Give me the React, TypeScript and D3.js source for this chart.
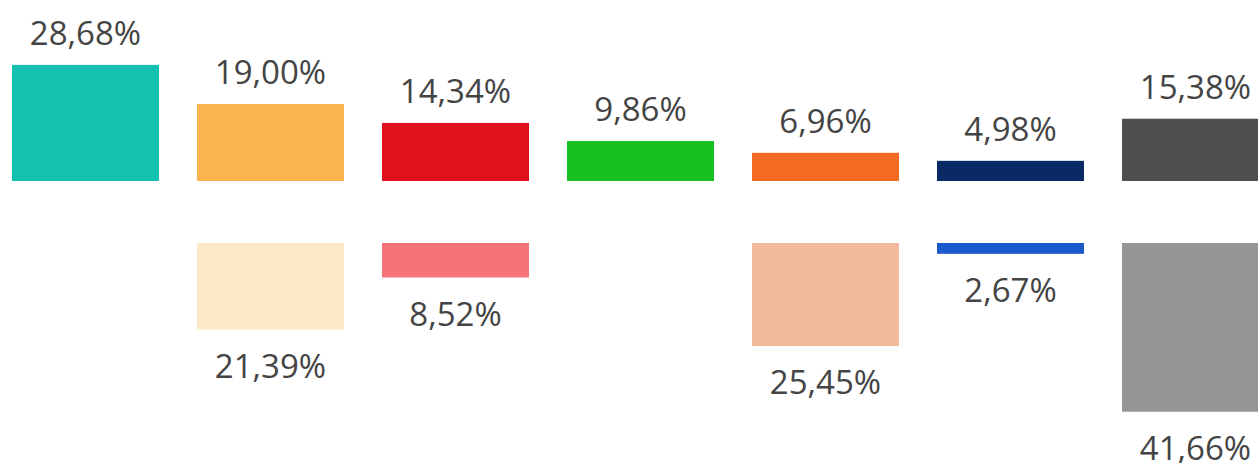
import React from "react";
import * as d3 from "d3";

const categories = ["A", "B", "C", "D", "E", "F", "G"];
const topValues = [28.68, 19.0, 14.34, 9.86, 6.96, 4.98, 15.38];
const bottomValues: (number | null)[] = [null, 21.39, 8.52, null, 25.45, 2.67, 41.66];
const topColors = ["#14c0b0", "#f8b44e", "#e0101c", "#17c11f", "#f36b22", "#0a2a66", "#4f4f4f"];
const bottomColors = ["#ffffff", "#fbe8c9", "#f47479", "#ffffff", "#f2b99b", "#1a5acb", "#959595"];

const fmt = (v: number) => v.toFixed(2).replace(".", ",") + "%";

export default function App() {
  const W = 1258;
  const H = 463;
  const x = d3.scaleBand<string>().domain(categories).range([12, 12 + 185 * 7 - 38]).paddingInner(38 / 185).paddingOuter(0);
  const h = d3.scaleLinear().domain([0, 10]).range([0, 40.5]);
  const topBase = 181;
  const botBase = 243;
  const font = "'Open Sans', sans-serif";
  return (
    <svg width={W} height={H} style={{ position: "absolute", left: 0, top: 0, background: "#fff" }}>
      {categories.map((c, i) => {
        const x0 = x(c)!;
        const bw = x.bandwidth();
        const tv = topValues[i];
        const bv = bottomValues[i];
        return (
          <g key={c}>
            <rect x={x0} y={topBase - h(tv)} width={bw} height={h(tv)} fill={topColors[i]} />
            <text x={x0 + bw / 2} y={topBase - h(tv) - 20} textAnchor="middle" fontFamily={font} fontSize={33} fill="#444">
              {fmt(tv)}
            </text>
            {bv != null && (
              <>
                <rect x={x0} y={botBase} width={bw} height={h(bv)} fill={bottomColors[i]} />
                <text x={x0 + bw / 2} y={botBase + h(bv) + 48} textAnchor="middle" fontFamily={font} fontSize={33} fill="#444">
                  {fmt(bv)}
                </text>
              </>
            )}
          </g>
        );
      })}
    </svg>
  );
}
